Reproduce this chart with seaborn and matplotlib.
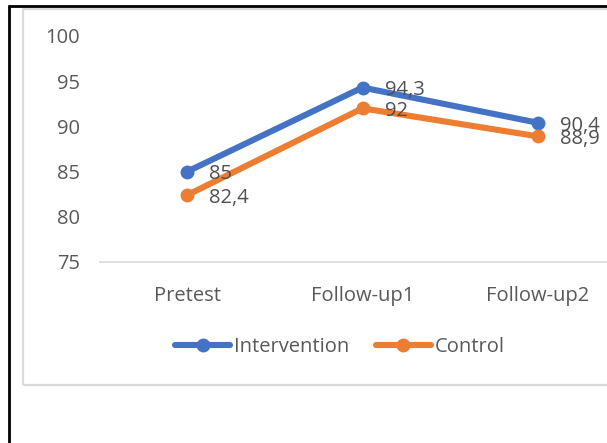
import matplotlib
matplotlib.use("Agg")
import matplotlib.pyplot as plt
import seaborn as sns
import pandas as pd
from matplotlib.lines import Line2D
from matplotlib.patches import Rectangle

categories = ["Pretest", "Follow-up1", "Follow-up2"]
intervention = [85, 94.3, 90.4]
control = [82.4, 92, 88.9]
series_names = ["Intervention", "Control"]
yticks = [75, 80, 85, 90, 95, 100]

df = pd.DataFrame({
    "time": categories * 2,
    "score": intervention + control,
    "group": [series_names[0]] * 3 + [series_names[1]] * 3,
})

sns.set_theme(style="white")
plt.rcParams['font.family'] = ['Open Sans', 'DejaVu Sans']

W, H = 607, 443
fig = plt.figure(figsize=(W / 100, H / 100), dpi=100)

def fx(px):
    return px / W

def fy(py):
    return 1 - py / H

FS = 14.5

# axes placement
ax = fig.add_axes([fx(99.5), fy(262), (625.5 - 99.5) / W, 226 / H])
colors = {"Intervention": "#4472C4", "Control": "#ED7D31"}
sns.lineplot(data=df, x="time", y="score", hue="group", palette=colors,
             marker="o", markersize=10, markeredgewidth=0, linewidth=4.4,
             sort=False, ax=ax, legend=False)
ax.set_xlim(-0.5, 2.5)
ax.set_ylim(75, 100)
ax.set_yticks(yticks)
ax.set_yticklabels([str(t) for t in yticks])
ax.set_xlabel("")
ax.set_ylabel("")
for s in ["top", "right", "left"]:
    ax.spines[s].set_visible(False)
ax.spines["bottom"].set_color("#d9d9d9")
ax.spines["bottom"].set_linewidth(1.2)
ax.tick_params(axis="y", length=0, pad=14, labelsize=FS, labelcolor="#595959")
ax.tick_params(axis="x", length=0, pad=17.5, labelsize=FS, labelcolor="#595959")
ax.grid(False)

# data labels
for vals in (intervention, control):
    for i, v in enumerate(vals):
        txt = f"{v:g}".replace(".", ",")
        ax.annotate(txt, (i, v), xytext=(16, -2), textcoords="offset points",
                    ha="left", va="center", fontsize=FS, color="#505050")

# legend
handles = [Line2D([0], [0], color=colors[n], lw=4.4, marker="o", markersize=10,
                  markeredgewidth=0, solid_capstyle="round") for n in series_names]
fig.legend(handles, series_names, loc="center", bbox_to_anchor=(fx(340), fy(347)),
           ncol=2, frameon=False, fontsize=FS, handlelength=2.7, handletextpad=0.2,
           columnspacing=1.35, labelcolor="#595959")

# chart box and outer border
fig.add_artist(Rectangle((fx(23), fy(385)), fx(640) - fx(23), fy(9) - fy(385),
                         transform=fig.transFigure, fill=False, edgecolor="#d9d9d9", lw=1.6))
fig.add_artist(Line2D([fx(9), fx(9)], [fy(6), 0], transform=fig.transFigure, color="black", lw=2))
fig.add_artist(Line2D([fx(9), 1], [fy(6), fy(6)], transform=fig.transFigure, color="black", lw=2))

fig.savefig("out.png", dpi=100)
